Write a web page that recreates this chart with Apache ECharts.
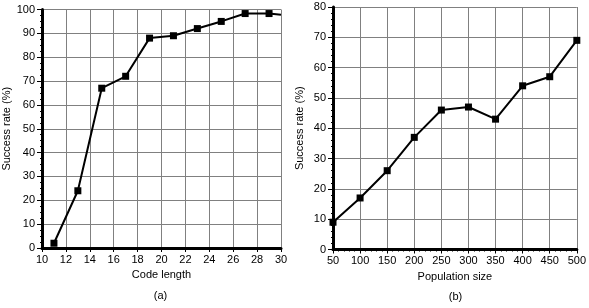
<!DOCTYPE html>
<html><head><meta charset="utf-8">
<script src="https://cdn.jsdelivr.net/npm/echarts@6/dist/echarts.min.js"></script>
<style>html,body{margin:0;padding:0;background:#fff}#c{width:589px;height:308px}</style>
</head><body><div id="c"></div>
<script>
const codeLength = [11, 13, 15, 17, 19, 21, 23, 25, 27, 29, 30];
const successA = [2, 24, 67, 72, 88, 89, 92, 95, 98.3, 98.3, 97.8];
const popSize = [50, 100, 150, 200, 250, 300, 350, 400, 450, 500];
const successB = [9, 17, 26, 37, 46, 47, 43, 54, 57, 69];
const xTitleA = 'Code length';
const xTitleB = 'Population size';
const yTitle = 'Success rate (%)';
const capA = '(a)', capB = '(b)';

const F = 'Liberation Sans, Arial, sans-serif';
const txt = {color: '#000', fontFamily: F, fontSize: 11};
function xAx(idx, min, max, interval, name, minorSplit, gap) {
  return {type: 'value', gridIndex: idx, min, max, interval, name, nameLocation: 'middle', nameGap: gap,
    nameTextStyle: txt,
    axisLine: {show: true, onZero: false, lineStyle: {color: '#000', width: 3}},
    axisTick: {show: true, length: 4, lineStyle: {color: '#000', width: 1}},
    minorTick: {show: true, splitNumber: minorSplit, length: 2, lineStyle: {color: '#000', width: 1}},
    axisLabel: Object.assign({margin: 6}, txt),
    splitLine: {show: true, lineStyle: {color: '#808080', width: 1}}};
}
function yAx(idx, min, max, interval, minorSplit, gap) {
  return {type: 'value', gridIndex: idx, min, max, interval, name: yTitle, nameLocation: 'middle', nameGap: gap, nameRotate: 90,
    nameTextStyle: txt,
    axisLine: {show: true, onZero: false, lineStyle: {color: '#000', width: 3}},
    axisTick: {show: true, length: 5, lineStyle: {color: '#000', width: 1}},
    minorTick: {show: true, splitNumber: minorSplit, length: 2, lineStyle: {color: '#000', width: 1}},
    axisLabel: Object.assign({margin: 7}, txt),
    splitLine: {show: true, lineStyle: {color: '#808080', width: 1}}};
}
const chart = echarts.init(document.getElementById('c'), null, {renderer: 'canvas'});
chart.setOption({
  animation: false,
  backgroundColor: '#fff',
  grid: [
    {left: 40, top: 9.5, width: 241, height: 238.5},
    {left: 333, top: 7, width: 245, height: 242.5}
  ],
  xAxis: [xAx(0, 10, 30, 2, xTitleA, 4, 20), xAx(1, 50, 500, 50, xTitleB, 5, 21)],
  yAxis: [yAx(0, 0, 100, 10, 4, 30), yAx(1, 0, 80, 10, 5, 28)],
  series: [
    {type: 'line', xAxisIndex: 0, yAxisIndex: 0,
     data: codeLength.map((x, i) => ({value: [x, successA[i]], symbolSize: i === codeLength.length - 1 ? 0 : 7})),
     symbol: 'rect', lineStyle: {color: '#000', width: 2}, itemStyle: {color: '#000'}},
    {type: 'line', xAxisIndex: 1, yAxisIndex: 1,
     data: popSize.map((x, i) => [x, successB[i]]),
     symbol: 'rect', symbolSize: 7, lineStyle: {color: '#000', width: 2}, itemStyle: {color: '#000'}}
  ],
  graphic: [
    {type: 'text', x: 160.5, y: 296, style: {text: capA, fill: '#000', font: '11px ' + F, textAlign: 'center', textVerticalAlign: 'middle'}},
    {type: 'text', x: 455.5, y: 297, style: {text: capB, fill: '#000', font: '11px ' + F, textAlign: 'center', textVerticalAlign: 'middle'}}
  ]
});
</script></body></html>
